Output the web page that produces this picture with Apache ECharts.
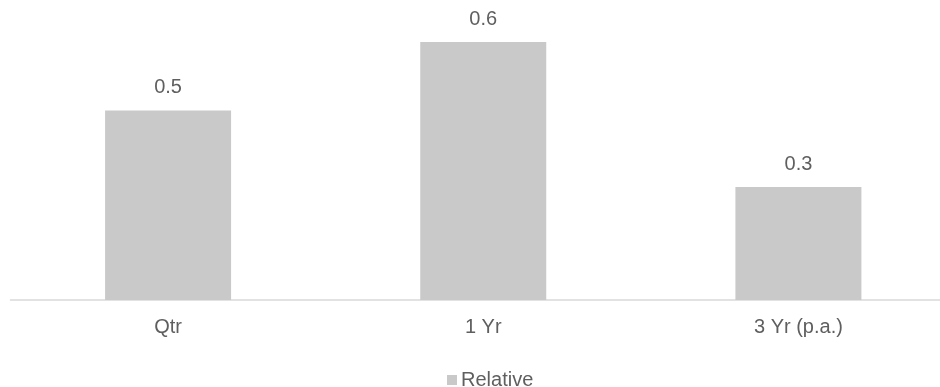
<!DOCTYPE html>
<html>
<head>
<meta charset="utf-8">
<script src="https://cdn.jsdelivr.net/npm/echarts@6/dist/echarts.min.js"></script>
<style>
  html, body { margin: 0; padding: 0; background: #ffffff; overflow: hidden; }
  #chart { width: 956px; height: 387px; }
</style>
</head>
<body>
<div id="chart"></div>
<script>
// Performance periods and relative returns
const categories = ['Qtr', '1 Yr', '3 Yr (p.a.)'];
const relative = [0.47, 0.64, 0.28];
const seriesName = 'Relative';

const chart = echarts.init(document.getElementById('chart'), null, { renderer: 'canvas' });

chart.setOption({
  animation: false,
  backgroundColor: '#ffffff',
  textStyle: { fontFamily: 'Liberation Sans, Arial, sans-serif' },
  grid: { left: 10.5, top: 17.8, right: 0, bottom: 87, containLabel: false },
  xAxis: {
    type: 'category',
    data: categories,
    axisLine: { show: true, lineStyle: { color: '#d9d9d9', width: 1.5 } },
    axisTick: { show: false },
    axisLabel: { color: '#5f5f5f', fontSize: 20, margin: 17 }
  },
  yAxis: {
    type: 'value',
    min: 0,
    max: 0.7,
    show: false,
    splitLine: { show: false }
  },
  legend: {
    data: [seriesName],
    left: 442,
    top: 365,
    itemWidth: 10,
    itemHeight: 10,
    itemGap: 5,
    icon: 'rect',
    textStyle: { color: '#5f5f5f', fontSize: 20, padding: [0, 0, 0, -1] }
  },
  series: [{
    name: seriesName,
    type: 'bar',
    data: relative,
    barWidth: 126,
    itemStyle: { color: '#c9c9c9' },
    label: {
      show: true,
      position: 'top',
      distance: 13,
      color: '#5f5f5f',
      fontSize: 20,
      formatter: p => p.value.toFixed(1)
    }
  }]
});
</script>
</body>
</html>
